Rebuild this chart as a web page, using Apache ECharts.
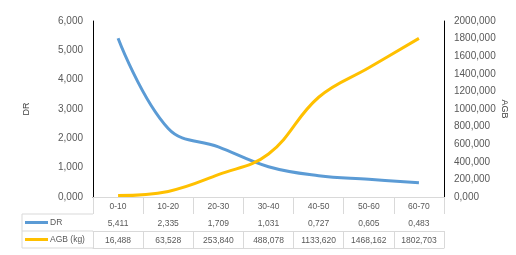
<!DOCTYPE html>
<html>
<head>
<meta charset="utf-8">
<script src="https://cdn.jsdelivr.net/npm/echarts@6.0.0/dist/echarts.min.js"></script>
<style>
  html, body { margin: 0; padding: 0; background: #fff; }
  #chart { width: 516px; height: 255px; }
</style>
</head>
<body>
<div id="chart"></div>
<script>
// data
const categories = ['0-10', '10-20', '20-30', '30-40', '40-50', '50-60', '60-70'];
const drValues = [5.411, 2.335, 1.709, 1.031, 0.727, 0.605, 0.483];
const agbValues = [16.488, 63.528, 253.840, 488.078, 1133.620, 1468.162, 1802.703];
const seriesNames = ['DR', 'AGB (kg)'];

const FONT = '"Liberation Sans", Arial, sans-serif';
const TXT = '#595959';
const GRIDLINE = '#d9d9d9';

// 3 decimals, comma as decimal separator
const fmt = v => Number(v).toFixed(3).replace('.', ',');

const chart = echarts.init(document.getElementById('chart'));

// plot box
const G = { left: 93, right: 72, top: 21, bottom: 58 };
const ROW = 17;

function tableAxis(data, offset, showLabel, tickLen) {
  return {
    type: 'category',
    data: data,
    position: 'bottom',
    offset: offset,
    axisLine: { show: true, lineStyle: { color: GRIDLINE, width: 1 } },
    axisTick: { show: tickLen > 0, interval: 0, length: tickLen, lineStyle: { color: GRIDLINE } },
    axisLabel: {
      show: showLabel, interval: 0, margin: 5,
      color: TXT, fontFamily: FONT, fontSize: 8.5
    },
    splitLine: { show: false }
  };
}

const catAxis = tableAxis(categories, 0, true, ROW);
catAxis.axisLine.lineStyle.color = '#000';

const option = {
  animation: false,
  backgroundColor: '#fff',
  grid: { left: G.left, right: G.right, top: G.top, bottom: G.bottom, outerBoundsMode: 'none' },
  legend: {
    orient: 'vertical',
    left: 25, top: 214,
    padding: 0,
    itemGap: 0,
    itemWidth: 23, itemHeight: 3,
    icon: 'rect',
    data: seriesNames,
    selectedMode: false,
    textStyle: { color: TXT, fontFamily: FONT, fontSize: 8.5, lineHeight: ROW, padding: [0, 0, 0, -3] }
  },
  xAxis: [
    catAxis,
    tableAxis(drValues.map(fmt), ROW, true, ROW),
    tableAxis(agbValues.map(fmt), ROW * 2, true, ROW),
    tableAxis(categories, ROW * 3, false, 0)
  ],
  yAxis: [
    {
      type: 'value', min: 0, max: 6, interval: 1,
      name: 'DR', nameLocation: 'middle', nameGap: 62, nameRotate: 90, nameMoveOverlap: false,
      nameTextStyle: { color: '#404040', fontFamily: FONT, fontSize: 9 },
      axisLine: { show: true, lineStyle: { color: '#000', width: 1 } },
      axisTick: { show: false },
      splitLine: { show: false },
      axisLabel: { margin: 10, color: TXT, fontFamily: FONT, fontSize: 10, formatter: fmt }
    },
    {
      type: 'value', min: 0, max: 2000, interval: 200, position: 'right',
      name: 'AGB', nameLocation: 'middle', nameGap: 56, nameRotate: -90, nameMoveOverlap: false,
      nameTextStyle: { color: '#404040', fontFamily: FONT, fontSize: 9 },
      axisLine: { show: true, lineStyle: { color: '#000', width: 1 } },
      axisTick: { show: false },
      splitLine: { show: false },
      axisLabel: { margin: 10, color: TXT, fontFamily: FONT, fontSize: 10, formatter: fmt }
    }
  ],
  series: [
    {
      name: seriesNames[0], type: 'line', xAxisIndex: 0, yAxisIndex: 0,
      data: drValues, smooth: 0.4, symbol: 'none',
      itemStyle: { color: '#5b9bd5' },
      lineStyle: { color: '#5b9bd5', width: 3 }
    },
    {
      name: seriesNames[1], type: 'line', xAxisIndex: 0, yAxisIndex: 1,
      data: agbValues, smooth: 0.4, symbol: 'none',
      itemStyle: { color: '#ffc000' },
      lineStyle: { color: '#ffc000', width: 3 }
    }
  ],
  // legend-cell borders of the data table (left of the plot box)
  graphic: [
    { type: 'line', shape: { x1: 22, y1: 214, x2: G.left, y2: 214 }, style: { stroke: GRIDLINE } },
    { type: 'line', shape: { x1: 22, y1: 231, x2: G.left, y2: 231 }, style: { stroke: GRIDLINE } },
    { type: 'line', shape: { x1: 22, y1: 248, x2: G.left, y2: 248 }, style: { stroke: GRIDLINE } },
    { type: 'line', shape: { x1: 22, y1: 214, x2: 22, y2: 248 }, style: { stroke: GRIDLINE } }
  ]
};

chart.setOption(option);
window.addEventListener('resize', () => chart.resize());
</script>
</body>
</html>
